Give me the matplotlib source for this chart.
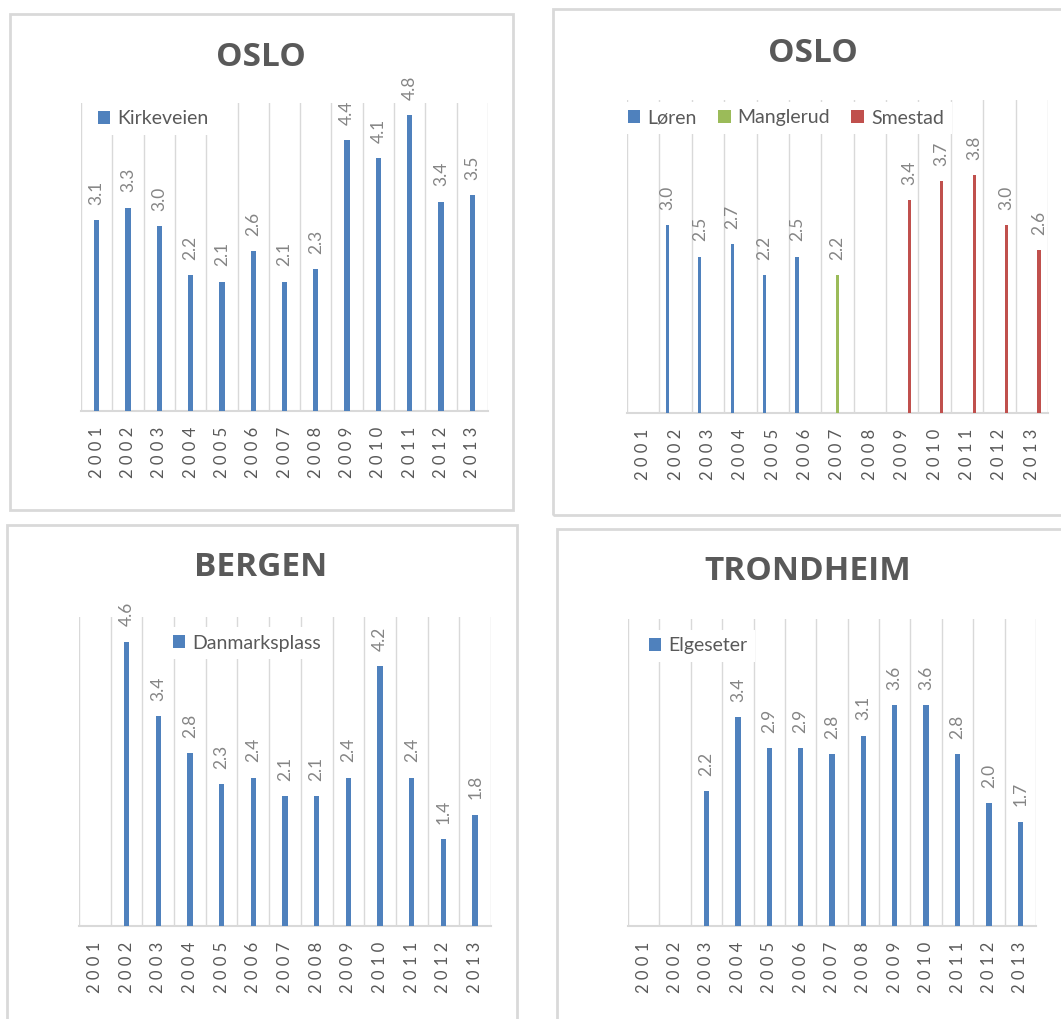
import numpy as np
import matplotlib
matplotlib.use('Agg')
import matplotlib.pyplot as plt
from matplotlib.patches import Patch, Rectangle

W, H = 1061, 1019

years = [str(y) for y in range(2001, 2014)]
nan = np.nan

# Oslo, Kirkeveien
kirkeveien = [3.1, 3.3, 3.0, 2.2, 2.1, 2.6, 2.1, 2.3, 4.4, 4.1, 4.8, 3.4, 3.5]

# Oslo, three stations
loren = [nan, 3.0, 2.5, 2.7, 2.2, 2.5, nan, nan, nan, nan, nan, nan, nan]
manglerud = [nan, nan, nan, nan, nan, nan, 2.2, nan, nan, nan, nan, nan, nan]
smestad = [nan, nan, nan, nan, nan, nan, nan, nan, 3.4, 3.7, 3.8, 3.0, 2.6]

# Bergen
danmarksplass = [nan, 4.6, 3.4, 2.8, 2.3, 2.4, 2.1, 2.1, 2.4, 4.2, 2.4, 1.4, 1.8]

# Trondheim
elgeseter = [nan, nan, 2.2, 3.4, 2.9, 2.9, 2.8, 3.1, 3.6, 3.6, 2.8, 2.0, 1.7]

BLUE = '#4f81bd'
GREEN = '#9bbb59'
RED = '#c0504d'
GRID = '#d9d9d9'
TXT = '#595959'
LBL = '#858585'
FONT = 'Lato'


def px_box(left, top, right, bottom):
    return [left / W, 1 - bottom / H, (right - left) / W, (bottom - top) / H]


def border(left, top, right, bottom):
    fig.add_artist(Rectangle((left / W, 1 - bottom / H), (right - left) / W,
                             (bottom - top) / H, transform=fig.transFigure,
                             fill=False, edgecolor=GRID, lw=2, zorder=0))


def panel(box, title, title_xy, series, legend_xy, width, offsets, ncol=1):
    ax = fig.add_axes(px_box(*box))
    x = np.arange(len(years))
    handles = []
    for (name, vals, color), off in zip(series, offsets):
        v = np.array(vals, dtype=float)
        ax.bar(x + off, v, width=width, color=color, zorder=3)
        for xi, vi in zip(x, v):
            if not np.isnan(vi):
                ax.annotate(f'{vi:.1f}', (xi + off, vi), xytext=(0, 11),
                            textcoords='offset points', rotation=90,
                            ha='center', va='bottom', fontsize=12.5,
                            color=LBL, family=FONT)
        handles.append(Patch(facecolor=color, label=name))
    for g in np.arange(-0.5, len(years), 1.0):
        ax.axvline(g, color=GRID, lw=1, zorder=1)
    ax.set_xlim(-0.5, len(years) - 0.5)
    ax.set_ylim(0, 5)
    ax.set_yticks([])
    for s in ['top', 'left', 'right']:
        ax.spines[s].set_visible(False)
    ax.spines['bottom'].set_color(GRID)
    ax.spines['bottom'].set_linewidth(1.5)
    ax.set_xticks(x)
    ax.set_xticklabels([' '.join(y) for y in years], rotation=90,
                       fontsize=12, color=TXT, family=FONT)
    ax.tick_params(axis='x', length=0, pad=11)
    leg = ax.legend(handles=handles, loc='center left',
                    bbox_to_anchor=(legend_xy[0] / W, 1 - legend_xy[1] / H),
                    bbox_transform=fig.transFigure, ncol=ncol,
                    prop={'family': FONT, 'size': 14}, frameon=True,
                    fancybox=False, borderpad=0.4, handlelength=0.65,
                    handleheight=0.65, handletextpad=0.35, columnspacing=1.1,
                    borderaxespad=0)
    leg.get_frame().set_facecolor('white')
    leg.get_frame().set_edgecolor('none')
    leg.get_frame().set_alpha(1)
    for t in leg.get_texts():
        t.set_color(TXT)
    fig.text(title_xy[0] / W, 1 - title_xy[1] / H, title,
             ha='center', va='center', fontsize=24, fontweight='bold',
             color=TXT, family='Open Sans')
    return ax


fig = plt.figure(figsize=(W / 100, H / 100), dpi=100)
fig.patch.set_facecolor('white')

border(10, 14, 513, 510)
border(553, 9, 1070, 515)
border(7, 525, 517, 1030)
border(557, 529, 1070, 1030)

panel((81, 103, 488, 411), 'OSLO', (261, 57),
      [('Kirkeveien', kirkeveien, BLUE)], (90, 119), 0.17, [0])

panel((627, 100, 1048, 413), 'OSLO', (813, 53),
      [('Løren', loren, BLUE), ('Manglerud', manglerud, GREEN),
       ('Smestad', smestad, RED)], (620, 118), 0.1, [-0.25, 0, 0.22], ncol=3)

panel((79, 617, 491, 926), 'BERGEN', (261, 568),
      [('Danmarksplass', danmarksplass, BLUE)], (165, 643), 0.17, [0])

panel((628, 619, 1036, 926), 'TRONDHEIM', (808, 572),
      [('Elgeseter', elgeseter, BLUE)], (641, 646), 0.17, [0])

fig.savefig('out.png', dpi=100, facecolor='white')
